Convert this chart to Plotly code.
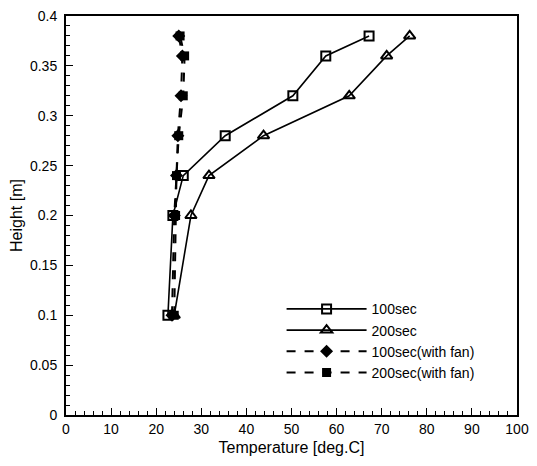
import plotly.graph_objects as go

# heights of the measuring points [m]
height = [0.1, 0.2, 0.24, 0.28, 0.32, 0.36, 0.38]

# temperatures [deg.C]
t_100 = [22.6, 23.7, 26.0, 35.3, 50.3, 57.6, 67.2]
t_200 = [24.0, 27.7, 31.7, 43.8, 62.8, 71.1, 76.2]
t_100_fan = [23.5, 24.0, 24.5, 24.8, 25.5, 25.8, 25.0]
t_200_fan = [24.0, 24.3, 24.5, 25.0, 26.0, 26.3, 25.3]

fig = go.Figure()

fig.add_trace(go.Scatter(
    x=t_100, y=height, mode='lines+markers', name='100sec',
    line=dict(color='black', width=1.6),
    marker=dict(symbol='square-open', size=9, color='black', line=dict(width=2))
))
fig.add_trace(go.Scatter(
    x=t_200, y=height, mode='lines+markers', name='200sec',
    line=dict(color='black', width=1.6),
    marker=dict(symbol='triangle-up-open', size=10, color='black', line=dict(width=2))
))
fig.add_trace(go.Scatter(
    x=t_100_fan, y=height, mode='lines+markers', name='100sec(with fan)',
    line=dict(color='black', width=2, dash='dash'),
    marker=dict(symbol='diamond', size=10, color='black')
))
fig.add_trace(go.Scatter(
    x=t_200_fan, y=height, mode='lines+markers', name='200sec(with fan)',
    line=dict(color='black', width=2, dash='dash'),
    marker=dict(symbol='square', size=9, color='black')
))

# the page body keeps its default 8px margin, so the figure is sized to fit inside it
fig.update_layout(
    width=521,
    height=450,
    margin=dict(l=58, r=12, t=8, b=43),
    plot_bgcolor='white',
    paper_bgcolor='white',
    font=dict(family='Liberation Sans, Arial, sans-serif', size=14, color='black'),
    showlegend=True,
    legend=dict(x=0.478, y=0.305, xanchor='left', yanchor='top',
                bgcolor='rgba(0,0,0,0)', font=dict(size=14),
                itemwidth=80, tracegroupgap=0),
)

fig.update_xaxes(
    title=dict(text='Temperature [deg.C]', font=dict(size=16), standoff=6),
    range=[0, 100], dtick=10, tick0=0, automargin=False,
    ticklabeloverflow='allow',
    showgrid=False, zeroline=False,
    showline=True, linecolor='black', linewidth=2, mirror=True,
    ticks='inside', ticklen=7, tickcolor='black',
    minor=dict(ticks='inside', ticklen=4, dtick=2, tickcolor='black'),
)
fig.update_yaxes(
    title=dict(text='Height [m]', font=dict(size=16), standoff=4),
    range=[0, 0.4], dtick=0.05, tick0=0, automargin=False,
    ticklabelstandoff=4, ticklabeloverflow='allow',
    showgrid=False, zeroline=False,
    showline=True, linecolor='black', linewidth=2, mirror=True,
    ticks='inside', ticklen=7, tickcolor='black',
    minor=dict(ticks='inside', ticklen=4, dtick=0.01, tickcolor='black'),
)

fig.write_html("out.html")
